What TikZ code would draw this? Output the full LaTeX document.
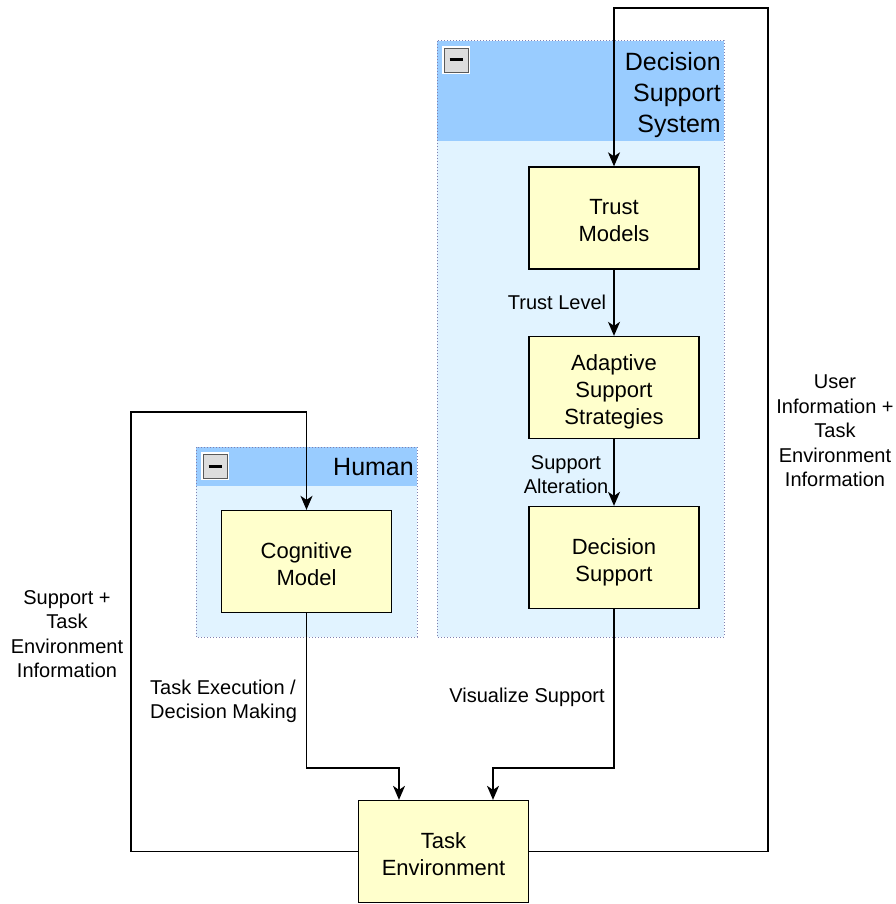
\documentclass[tikz,border=0pt]{standalone}
\usepackage{fontspec}
\setmainfont{Liberation Sans}
\usetikzlibrary{arrows.meta}
\definecolor{hdrblue}{HTML}{99CCFF}
\definecolor{bodyblue}{HTML}{E1F3FF}
\definecolor{dotcol}{HTML}{8080B0}
\definecolor{boxfill}{HTML}{FFFFCC}
\definecolor{icongray}{HTML}{DDDDDD}
\tikzset{
  block/.style={draw=black, line width=1.3pt, fill=boxfill, minimum width=170pt, minimum height=102pt, inner sep=0pt, align=center, font=\fontsize{22}{27}\selectfont},
  arr/.style={draw=black, line width=1.4pt, -{Stealth[length=14pt,width=12pt,inset=4pt]}},
  lbl/.style={inner sep=0pt, font=\fontsize{20}{24.5}\selectfont},
  hdr/.style={inner sep=0pt, anchor=east, align=right, font=\fontsize{25}{31}\selectfont},
  container/.style={draw=dotcol, dotted, line width=1pt},
}
\newcommand{\bt}[2][3.5pt]{\raisebox{-#1}[\height][\depth]{\begin{tabular}{@{}c@{}}#2\end{tabular}}}
\newcommand{\minusicon}[2]{%
  \fill[white] (#1-1,#2-1) rectangle (#1+27,#2+27);
  \draw[fill=icongray, draw=gray!70!black, line width=0.8pt] (#1+1,#2+1) rectangle (#1+25,#2+25);
  \draw[black, line width=3pt] (#1+6.5,#2+13) -- (#1+19.5,#2+13);
}
\begin{document}
\begin{tikzpicture}[x=1pt, y=-1pt]
\useasboundingbox (0,0) rectangle (895,904);
% containers
\fill[bodyblue] (437,41) rectangle (724,637);
\fill[hdrblue] (437,41) rectangle (724,141);
\draw[container] (437,41) rectangle (724,637);
\fill[bodyblue] (196,447) rectangle (417,637);
\fill[hdrblue] (196,447) rectangle (417,486);
\draw[container] (196,447) rectangle (417,637);
\minusicon{443}{47}
\minusicon{202}{453}
\node[hdr] (dsshdr) at (721,95) {Decision\\Support\\System};
\node[hdr] (humhdr) at (414,467.5) {Human};
% blocks
\node[block] (trust) at (614,218) {\bt[4.5pt]{Trust\\Models}};
\node[block] (adapt) at (614,387.5) {\bt[5pt]{Adaptive\\Support\\Strategies}};
\node[block] (dec) at (614,557.5) {\bt[5pt]{Decision\\Support}};
\node[block] (cog) at (306.5,561.5) {\bt[5.5pt]{Cognitive\\Model}};
\node[block] (task) at (443.5,851.5) {\bt[5.5pt]{Task\\Environment}};
% helper coordinates
\coordinate (xa) at (399,0);
\coordinate (xb) at (493,0);
% connectors
\draw[arr] (trust) -- (adapt);
\draw[arr] (adapt) -- (dec);
\draw[arr] (task.east) -- (768,851.5) -- (768,8) -| (trust.north);
\draw[arr] (task.west) -| (131,412) -| (cog.north);
\draw[arr] (cog.south) |- (399,768) -- (xa |- task.north);
\draw[arr] (dec.south) |- (493,768) -- (xb |- task.north);
% labels
\node[lbl] (l1) at (557,302.5) {Trust Level};
\node[lbl, align=center] (l2) at (566,474.5) {Support\\Alteration};
\node[lbl, align=left, anchor=west] (l3) at (150,701.5) {Task Execution /\\Decision Making};
\node[lbl] (l4) at (527,697.5) {Visualize Support};
\node[lbl, align=center] (l5) at (67,634) {Support +\\Task\\Environment\\Information};
\node[lbl, align=center] (l6) at (835,431) {User\\Information +\\Task\\Environment\\Information};
\end{tikzpicture}
\end{document}
